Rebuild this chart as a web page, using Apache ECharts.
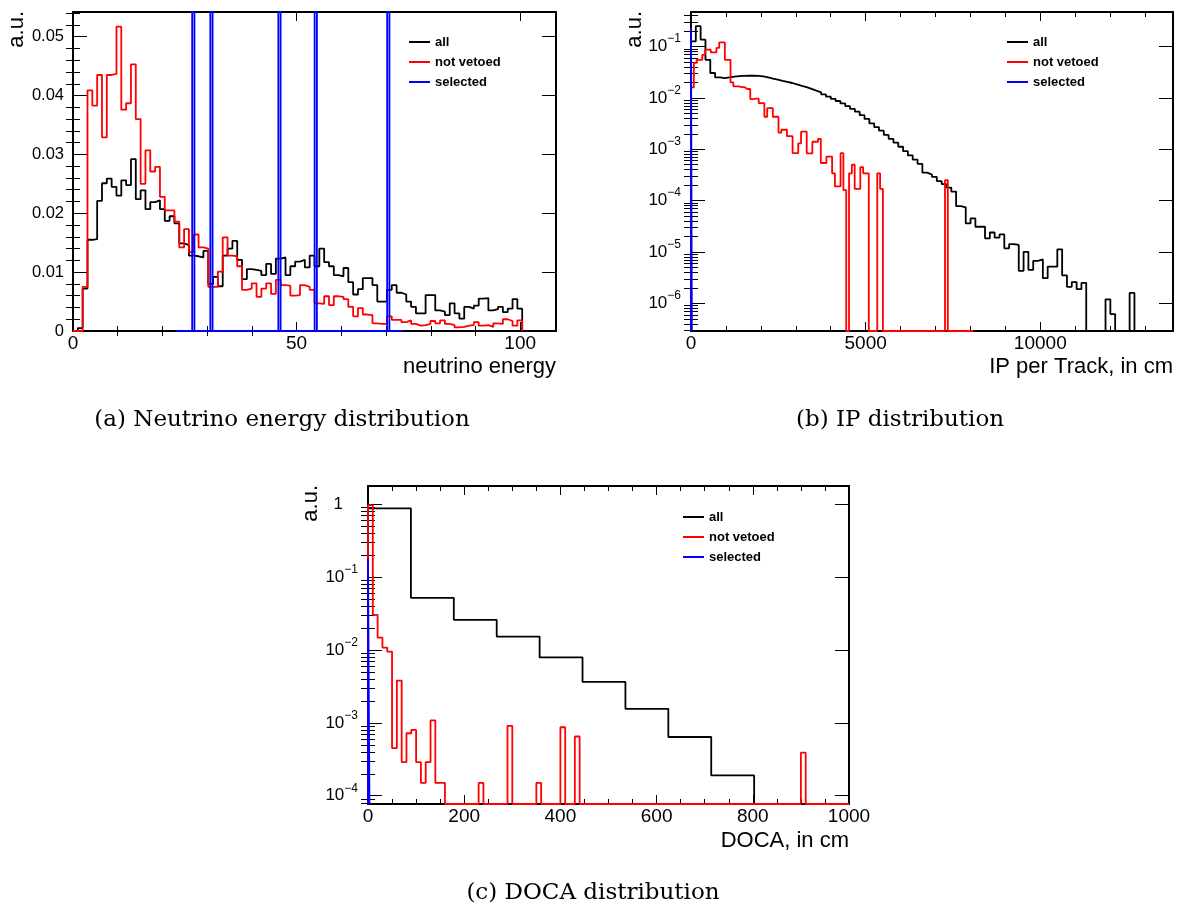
<!DOCTYPE html>
<html><head><meta charset="utf-8">
<script src="https://cdn.jsdelivr.net/npm/echarts@6/dist/echarts.min.js"></script>
<style>html,body{margin:0;padding:0;background:#fff}#c{width:1186px;height:908px}</style>
</head><body><div id="c"></div>
<script>
// ---------------- DATA ----------------
const seriesNames = ['all', 'not vetoed', 'selected'];
const captions = ['(a) Neutrino energy distribution', '(b) IP distribution', '(c) DOCA distribution'];
const xTitles = ['neutrino energy', 'IP per Track, in cm', 'DOCA, in cm'];
const yTitle = 'a.u.';

// (a) neutrino energy: bins of 1.08 starting at 0 (93 bins)
const aStart = 0, aWidth = 1.08;
const aAll = [0,0.0005,0.0072,0.0155,0.0156,0.0221,0.0251,0.0259,0.0245,0.0230,
  0.0256,0.0248,0.0292,0.0224,0.0239,0.0207,0.0219,0.0222,0.0207,0.0187,
  0.0195,0.0183,0.0149,0.0146,0.0128,0.0127,0.0125,0.0136,0.0080,0.0092,
  0.0076,0.0128,0.0140,0.0153,0.0121,0.0088,0.0105,0.0104,0.0102,0.0095,
  0.0114,0.0097,0.0123,0.0125,0.0095,0.0110,0.0118,0.0121,0.0108,0.0128,
  0.0110,0.0140,0.0117,0.0110,0.0095,0.0093,0.0107,0.0083,0.0062,0.0071,
  0.0090,0.0090,0.0078,0.0050,0.0050,0.0070,0.0078,0.0065,0.0062,0.0050,
  0.0041,0.0030,0.0030,0.0061,0.0061,0.0035,0.0033,0.0027,0.0047,0.0030,
  0.0021,0.0041,0.0038,0.0043,0.0055,0.0056,0.0035,0.0037,0.0041,0.0032,
  0.0038,0.0054,0.0038];
const aNotVetoed = [0,0,0.0075,0.0409,0.0383,0.0435,0.0329,0.0435,0.0437,0.0517,
  0.0376,0.0387,0.0453,0.0360,0.0250,0.0307,0.0271,0.0279,0.0228,0.0205,
  0.0205,0.0186,0.0142,0.0173,0.0134,0.0164,0.0142,0.0140,0.0075,0.0075,
  0.0101,0.0159,0.0128,0.0127,0.0110,0.0070,0.0072,0.0081,0.0058,0.0072,
  0.0081,0.0063,0.0087,0.0078,0.0077,0.0060,0.0061,0.0078,0.0075,0.0070,
  0.0047,0.0046,0.0059,0.0044,0.0059,0.0058,0.0054,0.0041,0.0025,0.0039,
  0.0028,0.0027,0.0013,0.0012,0.0012,0.0025,0.0019,0.0019,0.0015,0.0018,
  0.0012,0.0009,0.0010,0.0012,0.0017,0.0013,0.0018,0.0012,0.0010,0.0006,
  0.0007,0.0009,0.0010,0.0015,0.0009,0.0010,0.0007,0.0013,0.0012,0.0020,
  0.0017,0.0009,0.0018];
const aSelStart = 23.1, aSelWidth = 0.507;
const aSelected = (() => { const v = new Array(100).fill(0); [7,15,45,61,93].forEach(i => v[i] = 0.2); return v; })();

// (b) IP per track: "all" 100 bins of 138, "not vetoed" 100 bins of 80.8, "selected" 1 bin
const bStart = 0, bWidth = 138;
const bAll = [0.126,0.25,0.136,0.055,0.0305,0.025,0.0243,0.0252,0.026,0.0265,
  0.0268,0.027,0.027,0.0268,0.0262,0.0252,0.0238,0.0228,0.0215,0.0205,
  0.0195,0.0183,0.0172,0.0162,0.0150,0.0138,0.0128,0.0117,0.0106,0.0096,
  0.0087,0.0078,0.0069,0.0061,0.0054,0.0046,0.0039,0.0032,0.0027,0.0023,
  0.0019,0.0016,0.00135,0.00112,0.00092,0.00076,0.00063,0.00052,0.00035,0.00032,
  0.00029,0.00024,0.00021,0.00018,0.00015,7.8e-5,7.4e-5,3.6e-5,4.5e-5,3.1e-5,
  3.1e-5,1.85e-5,2.4e-5,1.9e-5,2.2e-5,1.18e-5,1.43e-5,1.37e-5,4.3e-6,1.01e-5,
  4.5e-6,6.7e-6,7.2e-6,3.1e-6,5.2e-6,5.2e-6,1.13e-5,3.5e-6,2.1e-6,2.6e-6,
  1.9e-6,2.5e-6,0,0,0,0,1.2e-6,6.2e-7,0,0,
  0,1.6e-6,0,0,0,0,0,0,0,0];
const bNotStart = 0, bNotWidth = 80.8;
const bNotVetoed = [0.016,0.048,0.055,0.055,0.069,0.087,0.087,0.077,0.077,0.094,
  0.12,0.12,0.055,0.055,0.020,0.0167,0.0167,0.0162,0.0162,0.0149,
  0.0149,0.0095,0.0097,0.0097,0.0079,0.0079,0.0043,0.0063,0.0063,0.0043,
  0.0043,0.0021,0.0024,0.0024,0.0018,0.0018,0.00084,0.00084,0.0013,0.0022,
  0.0022,0.00083,0.00083,0.0014,0.0014,0.0016,0.00054,0.00054,0.00072,0.00072,
  0.00034,0.00019,0.00019,0.00084,0.00016,0,0.00034,0.0005,0.00017,0.00017,
  0.00045,0.00034,0.00034,0,0,0,0.00034,0.00017,0,0,
  0,0,0,0,0,0,0,0,0,0,
  0,0,0,0,0,0,0,0,0,0,
  0.00025,0,0,0,0,0,0,0,0,0];
const bSelStart = 0, bSelWidth = 25;
const bSelected = [0.23];

// (c) DOCA
const cStart = 0, cWidth = 89.2;
const cAll = [0.88,0.052,0.0259,0.0153,0.0079,0.00365,0.00156,0.00064,0.00019,0];
const cNotStart = 0, cNotWidth = 10;
const cNotVetoed = (() => {
  const v = new Array(100).fill(0);
  const nz = {0:0.97,1:0.0303,2:0.0148,3:0.0108,4:0.0095,5:0.00045,6:0.0038,7:0.00029,8:0.00072,9:0.0008,
    10:0.00029,11:0.00015,12:0.00029,13:0.00108,14:0.00015,15:0.00015,23:0.00015,29:0.00091,35:0.00015,
    40:0.00087,43:0.00065,90:0.00039};
  Object.keys(nz).forEach(k => v[+k] = nz[k]);
  return v;
})();
const cSelStart = 0, cSelWidth = 3;
const cSelected = [0.18];

// axis ranges and tick values
const aX = {min: 0, max: 108, major: [0, 50, 100], minorStep: 10};
const aY = {min: 0, max: 0.0542, major: [0, 0.01, 0.02, 0.03, 0.04, 0.05], minorStep: 0.002};
const bX = {min: 0, max: 13800, major: [0, 5000, 10000], minorStep: 1000};
const bY = {min: 2.9e-7, max: 0.47, major: [1e-6, 1e-5, 1e-4, 1e-3, 1e-2, 1e-1]};
const cX = {min: 0, max: 1000, major: [0, 200, 400, 600, 800, 1000], minorStep: 50};
const cY = {min: 7.7e-5, max: 1.78, major: [1e-4, 1e-3, 1e-2, 1e-1, 1]};

// ---------------- BUILD ----------------
const FONT = 'Liberation Sans';
const COLORS = ['#000000', '#ff0000', '#0000ff'];

function linMinors(ax) {
  const out = [];
  const n = Math.round((ax.max - ax.min) / ax.minorStep);
  for (let i = 0; i <= n; i++) {
    const v = +(ax.min + i * ax.minorStep).toFixed(10);
    if (v <= ax.max && !ax.major.some(m => Math.abs(m - v) < ax.minorStep * 1e-3)) out.push(v);
  }
  return out;
}
function logMinors(ax) {
  const out = [];
  for (let e = -8; e <= 1; e++) for (let m = 2; m <= 9; m++) {
    const v = +(m * Math.pow(10, e)).toPrecision(6);
    if (v >= ax.min && v <= ax.max) out.push(v);
  }
  return out;
}
function steps(start, width, vals, floor) {
  const pts = [[start, floor]];
  vals.forEach((v, i) => {
    const y = v > 0 ? v : floor;
    pts.push([start + i * width, y]);
    pts.push([start + (i + 1) * width, y]);
  });
  pts.push([start + vals.length * width, floor]);
  return pts;
}
const linFmt = v => v === 0 ? '0' : String(+v.toFixed(3));
const logFmt = v => { const e = Math.round(Math.log10(v)); return e === 0 ? '{b|1}{w| }' : '{b|10}{s|\u2212' + (-e) + '}'; };
const richLog = {
  b: {fontSize: 17, fontFamily: FONT, color: '#000'},
  s: {fontSize: 12, fontFamily: FONT, color: '#000', padding: [0, 0, 15, 0]},
  w: {fontSize: 12, width: 15}
};

const xAxes = [], yAxes = [], grids = [];
function addPanel(g, rect, xs, ys, yLog) {
  grids.push(Object.assign({containLabel: false}, rect));
  const hidden = {splitLine: {show: false}, axisLine: {show: false}, axisLabel: {show: false}, axisTick: {show: false}};
  const line = {show: true, onZero: false, lineStyle: {color: '#000', width: 2}};
  const tick = (len, vals) => ({show: true, inside: true, length: len, customValues: vals, lineStyle: {color: '#000', width: 1}});
  const xm = linMinors(xs);
  ['bottom', 'top'].forEach(pos => {
    xAxes.push(Object.assign({}, hidden, {type: 'value', gridIndex: g, min: xs.min, max: xs.max, position: pos,
      axisLine: line, axisTick: tick(9, xs.major),
      axisLabel: pos === 'bottom' ? {show: true, customValues: xs.major, formatter: linFmt, margin: 3, color: '#000', fontSize: 19, fontFamily: FONT} : {show: false}}));
    xAxes.push(Object.assign({}, hidden, {type: 'value', gridIndex: g, min: xs.min, max: xs.max, position: pos,
      axisTick: tick(5, xm)}));
  });
  const ym = yLog ? logMinors(ys) : linMinors(ys);
  const yType = yLog ? 'log' : 'value';
  ['left', 'right'].forEach(pos => {
    yAxes.push(Object.assign({}, hidden, {type: yType, logBase: 10, gridIndex: g, min: ys.min, max: ys.max, position: pos,
      axisLine: line, axisTick: tick(14, ys.major),
      axisLabel: pos === 'left' ? (yLog
        ? {show: true, customValues: ys.major, formatter: logFmt, rich: richLog, margin: 10, color: '#000'}
        : {show: true, customValues: ys.major, formatter: linFmt, margin: 9, color: '#000', fontSize: 16.5, fontFamily: FONT})
        : {show: false}}));
    yAxes.push(Object.assign({}, hidden, {type: yType, logBase: 10, gridIndex: g, min: ys.min, max: ys.max, position: pos,
      axisTick: tick(7, ym)}));
  });
}
addPanel(0, {left: 73, top: 12, width: 483, height: 319}, aX, aY, false);
addPanel(1, {left: 691, top: 12, width: 482, height: 319}, bX, bY, true);
addPanel(2, {left: 368, top: 486, width: 481, height: 318}, cX, cY, true);

const series = [];
function addHist(g, idx, start, width, vals, floor) {
  series.push({
    type: 'line', name: seriesNames[idx], xAxisIndex: g * 4, yAxisIndex: g * 4,
    data: steps(start, width, vals, floor), showSymbol: false, symbol: 'none', animation: false,
    lineStyle: {color: COLORS[idx], width: 1.8}, itemStyle: {color: COLORS[idx]}, clip: true, z: 3 + idx
  });
}
addHist(0, 0, aStart, aWidth, aAll, aY.min);
addHist(0, 1, aStart, aWidth, aNotVetoed, aY.min);
addHist(0, 2, aSelStart, aSelWidth, aSelected, aY.min);
addHist(1, 0, bStart, bWidth, bAll, bY.min);
addHist(1, 1, bNotStart, bNotWidth, bNotVetoed, bY.min);
addHist(1, 2, bSelStart, bSelWidth, bSelected, bY.min);
addHist(2, 0, cStart, cWidth, cAll, cY.min);
addHist(2, 1, cNotStart, cNotWidth, cNotVetoed, cY.min);
addHist(2, 2, cSelStart, cSelWidth, cSelected, cY.min);

const legendBase = {orient: 'vertical', itemWidth: 21, itemHeight: 2, itemGap: 4, icon: 'rect', padding: 0,
  selectedMode: false, data: seriesNames,
  textStyle: {fontSize: 13, fontWeight: 'bold', fontFamily: FONT, color: '#000', lineHeight: 16}};
const legends = [
  Object.assign({}, legendBase, {left: 409, top: 34}),
  Object.assign({}, legendBase, {left: 1007, top: 34}),
  Object.assign({}, legendBase, {left: 683, top: 509})
];

const txt = (x, y, text, opts) => ({type: 'text', x, y, silent: true,
  style: Object.assign({text, fill: '#000', fontFamily: FONT, fontSize: 22}, opts)});
const capStyle = {align: 'center', verticalAlign: 'middle', fontFamily: 'DejaVu Serif', fontSize: 23};
const graphic = [
  txt(556, 367, xTitles[0], {align: 'right', verticalAlign: 'middle'}),
  txt(1173, 367, xTitles[1], {align: 'right', verticalAlign: 'middle'}),
  txt(849, 841, xTitles[2], {align: 'right', verticalAlign: 'middle'}),
  Object.assign(txt(17, 11, yTitle, {align: 'right', verticalAlign: 'middle'}), {rotation: Math.PI / 2}),
  Object.assign(txt(635, 11, yTitle, {align: 'right', verticalAlign: 'middle'}), {rotation: Math.PI / 2}),
  Object.assign(txt(311, 485, yTitle, {align: 'right', verticalAlign: 'middle'}), {rotation: Math.PI / 2}),
  txt(282, 420, captions[0], capStyle),
  txt(900, 420, captions[1], capStyle),
  txt(593, 893, captions[2], capStyle)
];

const chart = echarts.init(document.getElementById('c'), null, {renderer: 'canvas'});
chart.setOption({
  animation: false, backgroundColor: '#fff',
  grid: grids, xAxis: xAxes, yAxis: yAxes, series, legend: legends, graphic
});
</script>
</body></html>
